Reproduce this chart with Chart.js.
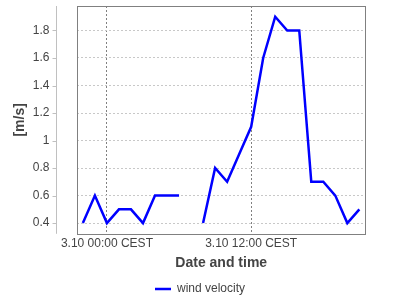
<!DOCTYPE html>
<html>
<head>
<meta charset="utf-8">
<script src="https://cdn.jsdelivr.net/npm/chart.js@4"></script>
<style>
  html,body{margin:0;padding:0;background:#fff;}
  #wrap{width:400px;height:300px;}
</style>
</head>
<body>
<div id="wrap"><canvas id="windChart" width="400" height="300"></canvas></div>
<script>
// hours relative to 3.10 00:00 CEST
const hours = [-2,-1,0,1,2,3,4,5,6,7,8,9,10,11,12,13,14,15,16,17,18,19,20,21];
const windVelocity = [0.4,0.6,0.4,0.5,0.5,0.4,0.6,0.6,0.6,null,0.4,0.8,0.7,0.9,1.1,1.6,1.9,1.8,1.8,0.7,0.7,0.6,0.4,0.5];
const xTickValues = [0,12];
const xTickLabels = ["3.10 00:00 CEST","3.10 12:00 CEST"];
const yTickValues = [0.4,0.6,0.8,1,1.2,1.4,1.6,1.8];
const yTickLabels = ["0.4","0.6","0.8","1","1.2","1.4","1.6","1.8"];

const txt = "#444";
const font = "'Liberation Sans', Arial, sans-serif";

// plot frame + offset y axis line (jfreechart look)
const frame = {
  id:"frame",
  afterDraw(c){
    const {ctx, chartArea:a, scales:{y}} = c;
    ctx.save();
    ctx.strokeStyle = "#808080";
    ctx.lineWidth = 1;
    ctx.strokeRect(Math.round(a.left)+0.5, Math.round(a.top)+0.5, Math.round(a.right-a.left), Math.round(a.bottom-a.top));
    const ax = Math.round(a.left) - 21 + 0.5;
    ctx.strokeStyle = "#c0c0c0";
    ctx.beginPath();
    ctx.moveTo(ax, a.top);
    ctx.lineTo(ax, a.bottom);
    yTickValues.forEach(v=>{
      const py = Math.round(y.getPixelForValue(v)) + 0.5;
      ctx.moveTo(ax-4, py);
      ctx.lineTo(ax, py);
    });
    ctx.stroke();
    ctx.restore();
  }
};

new Chart(document.getElementById("windChart"),{
  type:"line",
  data:{
    datasets:[{
      label:"wind velocity",
      data:hours.map((h,i)=>({x:h,y:windVelocity[i]})),
      borderColor:"#0000ff",
      backgroundColor:"#0000ff",
      borderWidth:2.5,
      pointRadius:0,
      tension:0,
      spanGaps:false
    }]
  },
  options:{
    responsive:false,
    animation:false,
    layout:{ padding:{left:8, right:8, top:0, bottom:0} },
    plugins:{
      tooltip:{enabled:false},
      legend:{
        position:"bottom",
        maxHeight:20,
        labels:{
          color:txt,
          font:{family:font,size:12},
          boxWidth:16,
          boxHeight:2.5,
          padding:3,
          generateLabels(c){
            return Chart.defaults.plugins.legend.labels.generateLabels(c)
              .map(l=>Object.assign(l,{lineWidth:0}));
          }
        }
      }
    },
    scales:{
      x:{
        type:"linear",
        min:-2.45,
        max:21.47,
        afterBuildTicks(s){ s.ticks = xTickValues.map(v=>({value:v})); },
        ticks:{
          color:txt,
          font:{family:font,size:12},
          padding:3,
          maxRotation:0,
          callback:(v)=>xTickLabels[xTickValues.indexOf(v)]
        },
        grid:{ color:"#808080", drawTicks:false },
        border:{ display:false, dash:[2,2] },
        title:{
          display:true,
          text:"Date and time",
          color:txt,
          font:{family:font,size:14,weight:"bold"},
          padding:{top:1,bottom:8}
        }
      },
      y:{
        min:0.322,
        max:1.978,
        afterBuildTicks(s){ s.ticks = yTickValues.map(v=>({value:v})); },
        ticks:{
          color:txt,
          font:{family:font,size:12,lineHeight:1},
          padding:0,
          callback:(v)=>yTickLabels[yTickValues.indexOf(v)]
        },
        grid:{ color:"#c8c8c8", drawTicks:true, tickLength:28, tickColor:"rgba(0,0,0,0)" },
        border:{ display:false, dash:[2,2] },
        title:{
          display:true,
          text:"[m/s]",
          color:txt,
          font:{family:font,size:14,weight:"bold"},
          padding:{top:4,bottom:4}
        }
      },
      // empty right margin so the legend stays centred on the canvas
      yRight:{
        position:"right",
        display:true,
        grid:{display:false},
        ticks:{display:false},
        border:{display:false},
        afterFit(s){ s.width = 27; }
      }
    }
  },
  plugins:[frame]
});
</script>
</body>
</html>
